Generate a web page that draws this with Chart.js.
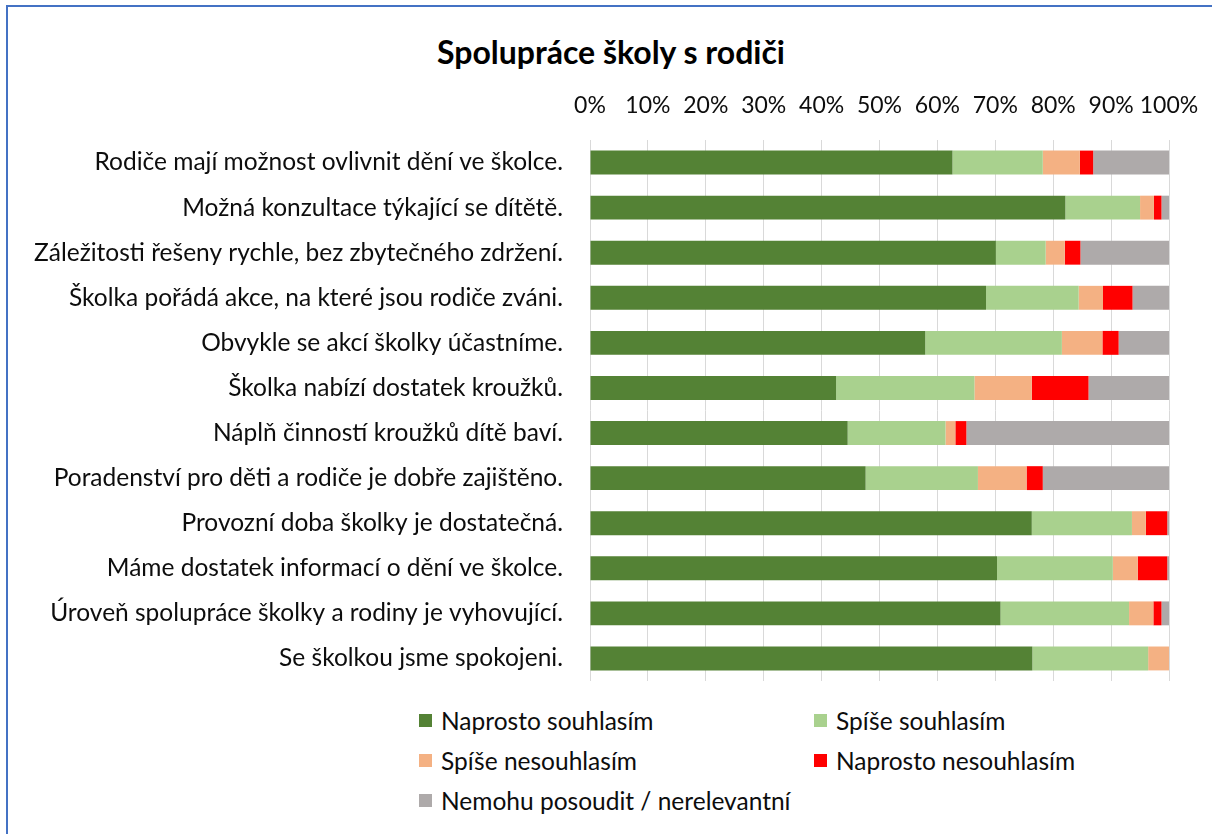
<!DOCTYPE html>
<html>
<head>
<meta charset="utf-8">
<title>Spolupráce školy s rodiči</title>
<script src="https://cdn.jsdelivr.net/npm/chart.js@4"></script>
<style>
    html, body { margin: 0; background: #fff; overflow: hidden; font-family: Lato, "Open Sans", sans-serif; }
    #frame { position: absolute; left: 6px; top: 5px; width: 1230px; height: 850px; border: 2px solid #4472C4; box-sizing: border-box; }
    #title { position: absolute; left: 0; top: 33px; width: 1222px; text-align: center; font-size: 32px; line-height: 38px; font-weight: bold; color: #000; }
    #chart { position: absolute; left: 0; top: 0; }
    #legend { position: absolute; left: 419px; top: 700px; display: grid; grid-template-columns: 395px 395px; grid-auto-rows: 40px; }
    .item { display: flex; align-items: center; font-size: 24.5px; color: #0d0d0d; white-space: nowrap; }
    .box { width: 13px; height: 13px; margin-right: 9px; flex: none; }
</style>
</head>
<body>
<div id="frame"></div>
<div id="title">Spolupráce školy s rodiči</div>
<canvas id="chart" width="1212" height="700"></canvas>
<div id="legend"></div>

<script>
const categories = [
    "Rodiče mají možnost ovlivnit dění ve školce.",
    "Možná konzultace týkající se dítětě.",
    "Záležitosti řešeny rychle, bez zbytečného zdržení.",
    "Školka pořádá akce, na které jsou rodiče zváni.",
    "Obvykle se akcí školky účastníme.",
    "Školka nabízí dostatek kroužků.",
    "Náplň činností kroužků dítě baví.",
    "Poradenství pro děti a rodiče je dobře zajištěno.",
    "Provozní doba školky je dostatečná.",
    "Máme dostatek informací o dění ve školce.",
    "Úroveň spolupráce školky a rodiny je vyhovující.",
    "Se školkou jsme spokojeni."
];

const seriesNames = ["Naprosto souhlasím", "Spíše souhlasím", "Spíše nesouhlasím", "Naprosto nesouhlasím", "Nemohu posoudit / nerelevantní"];
const seriesColors = ["#548235", "#A9D18E", "#F4B183", "#FF0000", "#AEAAAA"];

const naprostoSouhlasim   = [62.6, 82.1, 70.1, 68.4, 57.9, 42.5, 44.5, 47.6, 76.3, 70.3, 70.9, 76.4];
const spiseSouhlasim      = [15.6, 12.9,  8.6, 16.0, 23.6, 23.9, 16.9, 19.4, 17.3, 20.0, 22.2, 20.0];
const spiseNesouhlasim    = [ 6.4,  2.4,  3.3,  4.2,  7.0,  9.9,  1.7,  8.4,  2.4,  4.3,  4.2,  3.6];
const naprostoNesouhlasim = [ 2.3,  1.3,  2.7,  5.1,  2.8,  9.8,  1.9,  2.8,  3.7,  5.1,  1.4,  0.0];
const nemohuPosoudit      = [13.1,  1.3, 15.3,  6.3,  8.7, 13.9, 35.0, 21.8,  0.3,  0.3,  1.3,  0.0];

const tickValues = [0, 10, 20, 30, 40, 50, 60, 70, 80, 90, 100];

const seriesData = [naprostoSouhlasim, spiseSouhlasim, spiseNesouhlasim, naprostoNesouhlasim, nemohuPosoudit];

const fontFamily = "Lato, 'Open Sans', sans-serif";

// scale paddings would otherwise shrink the plot area, layout.padding decides it here
const noScalePadding = (scale) => {
    scale.paddingLeft = 0;
    scale.paddingRight = 0;
    scale.paddingTop = 0;
    scale.paddingBottom = 0;
};

const chart = new Chart(document.getElementById("chart"), {
    type: "bar",
    data: {
        labels: categories,
        datasets: seriesData.map((d, i) => ({
            label: seriesNames[i],
            data: d,
            backgroundColor: seriesColors[i],
            borderWidth: 0,
            barPercentage: 0.53,
            categoryPercentage: 1
        }))
    },
    options: {
        indexAxis: "y",
        responsive: false,
        animation: false,
        layout: { padding: { left: 0, right: 43, top: 77, bottom: 19 } },
        plugins: {
            legend: { display: false },
            tooltip: { enabled: false },
            title: { display: false }
        },
        scales: {
            x: {
                position: "top",
                stacked: true,
                min: 0,
                max: 100,
                afterBuildTicks: (scale) => { scale.ticks = tickValues.map(v => ({ value: v })); },
                afterFit: (scale) => { scale.height = 63; noScalePadding(scale); },
                ticks: {
                    callback: (v) => v + "%",
                    color: "#0d0d0d",
                    font: { family: fontFamily, size: 23 },
                    padding: 21,
                    autoSkip: false,
                    maxRotation: 0
                },
                grid: { color: "#D9D9D9", lineWidth: 1, drawTicks: false },
                border: { display: false }
            },
            y: {
                stacked: true,
                afterFit: (scale) => { scale.width = 590; noScalePadding(scale); },
                ticks: {
                    color: "#0d0d0d",
                    font: { family: fontFamily, size: 24.5 },
                    padding: 19
                },
                grid: { display: false },
                border: { display: false }
            }
        }
    }
});

// Legend in two columns, built from the chart datasets
const legendEl = document.getElementById("legend");
chart.data.datasets.forEach((ds) => {
    const item = document.createElement("div");
    item.className = "item";
    const box = document.createElement("span");
    box.className = "box";
    box.style.background = ds.backgroundColor;
    const txt = document.createElement("span");
    txt.textContent = ds.label;
    item.appendChild(box);
    item.appendChild(txt);
    legendEl.appendChild(item);
});
</script>
</body>
</html>
